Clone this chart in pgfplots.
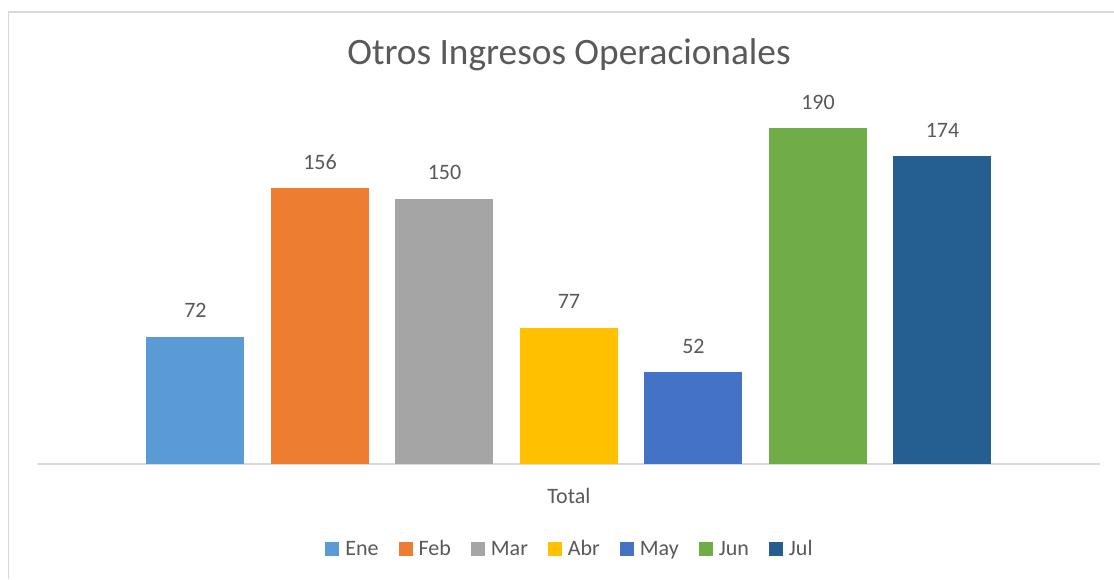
\documentclass[border=0pt]{standalone}
\usepackage{pgfplots}
\pgfplotsset{compat=1.18}
\usepackage{fontspec}
\setmainfont{Carlito}
\definecolor{cEne}{HTML}{5B9BD5}
\definecolor{cFeb}{HTML}{ED7D31}
\definecolor{cMar}{HTML}{A5A5A5}
\definecolor{cAbr}{HTML}{FFC000}
\definecolor{cMay}{HTML}{4472C4}
\definecolor{cJun}{HTML}{70AD47}
\definecolor{cJul}{HTML}{255E91}
\definecolor{txt}{HTML}{595959}
\definecolor{grid}{HTML}{D9D9D9}
\begin{document}
\begin{tikzpicture}
\useasboundingbox (0,0) rectangle (1114pt,579pt);
\fill[white] (0,0) rectangle (1114pt,579pt);
\draw[grid, line width=1.5pt] (8.5pt,0) -- (8.5pt,567pt) -- (1114pt,567pt);
\begin{axis}[
  at={(38pt,115pt)}, anchor=south west,
  scale only axis, width=1062pt, height=353.6pt,
  xmin=-1.265, xmax=7.265, ymin=0, ymax=200,
  ybar, bar width=98pt, bar shift=0pt,
  clip=false,
  hide y axis,
  axis x line*=bottom,
  x axis line style={draw=grid, line width=1.5pt},
  xtick=\empty,
  /pgf/number format/assume math mode=true,
  title={Otros Ingresos Operacionales},
  title style={at={(0.5,1)}, anchor=base, yshift=39.5pt, font=\fontsize{37.3}{44}\selectfont, text=txt},
  xlabel={Total},
  xlabel style={at={(axis description cs:0.5,0)}, anchor=base, yshift=-39pt, font=\fontsize{22}{26}\selectfont, text=txt},
  nodes near coords,
  every node near coord/.append style={anchor=center, yshift=26pt, font=\fontsize{22}{26}\selectfont, text=txt},
  legend columns=7,
  legend style={at={(0.5,0)}, anchor=center, yshift=-85pt, draw=none, fill=none,
    font=\fontsize{22}{26}\selectfont, text=txt,
    /tikz/every odd column/.append style={column sep=6pt},
    /tikz/every even column/.append style={column sep=20pt},
    nodes={inner xsep=0pt, inner ysep=3pt}},
  legend image code/.code={\fill[#1] (0pt,-7pt) rectangle (14pt,7pt);},
]
\addplot[fill=cEne, draw=none] coordinates {(0,72)};
\addplot[fill=cFeb, draw=none] coordinates {(1,156)};
\addplot[fill=cMar, draw=none] coordinates {(2,150)};
\addplot[fill=cAbr, draw=none] coordinates {(3,77)};
\addplot[fill=cMay, draw=none] coordinates {(4,52)};
\addplot[fill=cJun, draw=none] coordinates {(5,190)};
\addplot[fill=cJul, draw=none] coordinates {(6,174)};
\legend{Ene,Feb,Mar,Abr,May,Jun,Jul}
\end{axis}
\end{tikzpicture}
\end{document}
